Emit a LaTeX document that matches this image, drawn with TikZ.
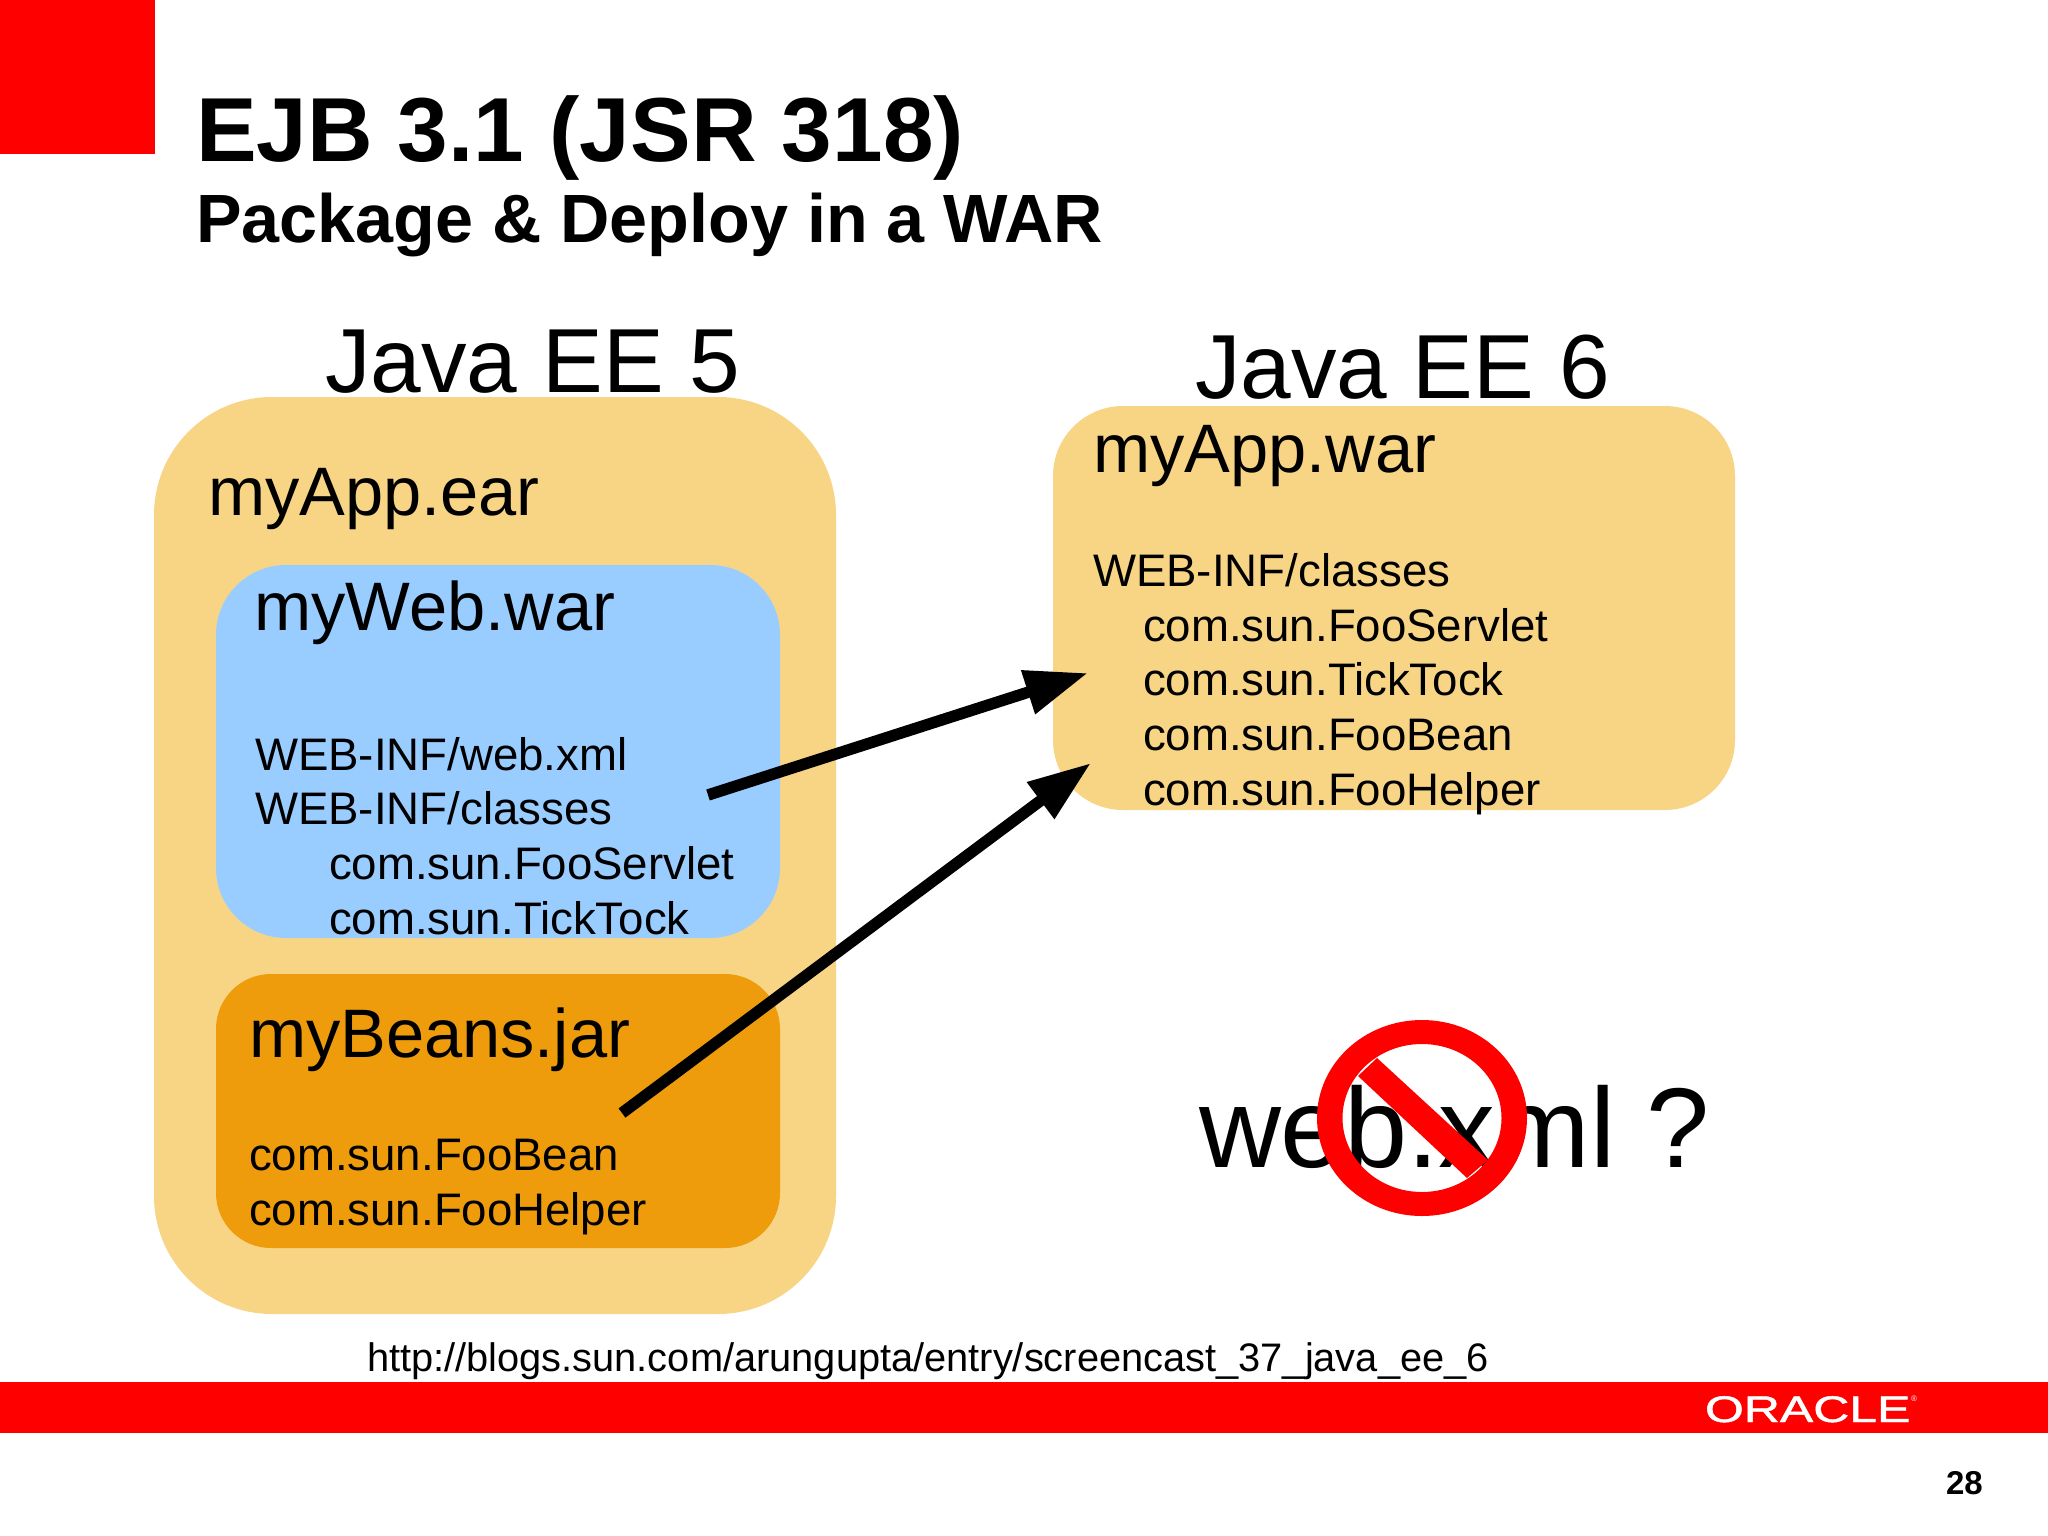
\documentclass[tikz,border=0pt]{standalone}
\usepackage{fontspec}
\setmainfont{Liberation Sans}
\newfontfamily\oraclefont[FakeBold=1.2]{Liberation Sans}
\usetikzlibrary{arrows.meta}
\definecolor{sand}{HTML}{F8D585}
\definecolor{skyb}{HTML}{99CCFF}
\definecolor{amber}{HTML}{EE9C0C}
\definecolor{oraclered}{HTML}{FF0000}
\newcommand{\fs}[1]{\fontsize{#1}{#1}\selectfont}
\tikzset{
  lbl/.style={anchor=base west,inner sep=0pt,outer sep=0pt,text=black},
  bodytxt/.style={lbl,font=\fs{45.6}},
  headtxt/.style={lbl,font=\fs{68.6}},
  bigtxt/.style={lbl,font=\fs{91}},
  bigarrow/.style={line width=11.5pt,draw=black,-{Triangle[length=63pt,width=43pt]}}
}
\begin{document}
\begin{tikzpicture}[x=1pt,y=-1pt]
\useasboundingbox (0,0) rectangle (2048,1536);
\fill[white] (0,0) rectangle (2048,1536);
\fill[oraclered] (0,0) rectangle (155,154);
\fill[oraclered] (0,1382) rectangle (2048,1433);
\fill[rounded corners=118pt,sand] (154,397) rectangle (836,1314);
\fill[rounded corners=70pt,skyb] (216,565) rectangle (780,938);
\fill[rounded corners=55pt,amber] (216,974) rectangle (780,1248);
\fill[rounded corners=70pt,sand] (1053,406) rectangle (1735,810);

\node[lbl,font=\bfseries\fs{90.9}] (title) at (196,161) {EJB 3.1 (JSR 318)};
\node[lbl,font=\bfseries\fs{68.3}] (subtitle) at (196,242) {Package \& Deploy in a WAR};
\node[bigtxt] (ee5) at (325,392.5) {Java EE 5};
\node[bigtxt] (ee6) at (1195,398) {Java EE 6};

\node[headtxt] (ear) at (208,515) {myApp.ear};
\node[headtxt] (webwar) at (254.5,630) {myWeb.war};
\node[bodytxt] (w1) at (255,770) {WEB-INF/web.xml};
\node[bodytxt] (w2) at (255,824.5) {WEB-INF/classes};
\node[bodytxt] (w3) at (329,879) {com.sun.FooServlet};
\node[bodytxt] (w4) at (329,934) {com.sun.TickTock};
\node[headtxt] (jar) at (249,1057) {myBeans.jar};
\node[bodytxt] (j1) at (249,1170) {com.sun.FooBean};
\node[bodytxt] (j2) at (249,1225) {com.sun.FooHelper};
\node[headtxt] (war) at (1093,472.5) {myApp.war};
\node[bodytxt] (r1) at (1093,586) {WEB-INF/classes};
\node[bodytxt] (r2) at (1143,641) {com.sun.FooServlet};
\node[bodytxt] (r3) at (1143,695) {com.sun.TickTock};
\node[bodytxt] (r4) at (1143,750) {com.sun.FooBean};
\node[bodytxt] (r5) at (1143,805) {com.sun.FooHelper};

\coordinate (a1s) at (708,795);
\coordinate (a1e) at (1088,673);
\coordinate (a2s) at (622,1113);
\coordinate (a2e) at (1091,763);
\draw[bigarrow] (a1s) -- (a1e);
\draw[bigarrow] (a2s) -- (a2e);

\node[lbl,font=\fs{113.5}] (webxml) at (1199,1167) {web.xml ?};
\fill[oraclered,even odd rule] (1422,1118) ellipse [x radius=105,y radius=98] (1422,1118) ellipse [x radius=79.5,y radius=74];
\fill[oraclered] (1377,1058) -- (1358,1076) -- (1467,1178) -- (1488,1160) -- cycle;

\node[lbl,font=\fs{39.8}] (url) at (367,1371) {http://blogs.sun.com/arungupta/entry/screencast\_37\_java\_ee\_6};
\node[lbl,text=white,font=\oraclefont\fs{37},xscale=1.35] (oracle) at (1705,1422) {ORACLE};
\node[lbl,text=white,font=\fs{8}] (reg) at (1911,1401) {®};
\node[lbl,font=\bfseries\fs{33}] (page) at (1946,1494) {28};
\end{tikzpicture}
\end{document}
